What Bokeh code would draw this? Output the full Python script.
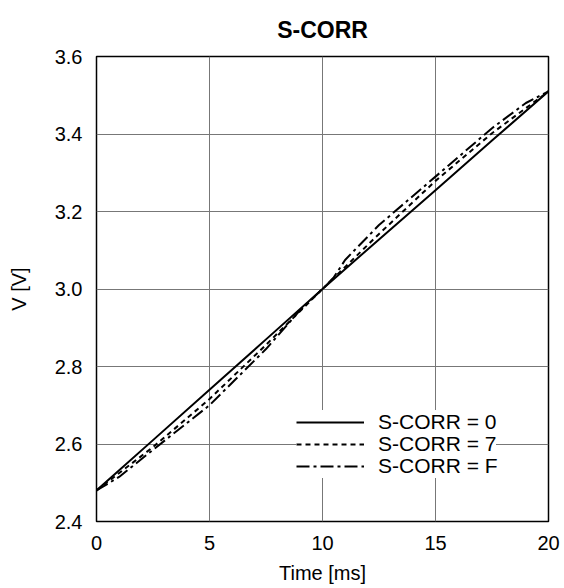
from bokeh.plotting import figure
from bokeh.models import FixedTicker, NumeralTickFormatter, Legend, LegendItem, Range1d
from bokeh.embed import file_html
from bokeh.resources import INLINE

# Data
time_ms = [0, 2.5, 5, 7.5, 10, 12.5, 15, 17.5, 20]
v_corr0 = [2.48, 2.61, 2.74, 2.87, 3.0, 3.128, 3.255, 3.383, 3.51]
v_corr7 = [2.48, 2.592, 2.716, 2.856, 3.0, 3.142, 3.279, 3.402, 3.51]
time_f = [0, 1, 2.5, 5, 7.5, 9, 10, 10.5, 11, 12.5, 15, 17.5, 19, 20]
v_corrF = [2.48, 2.515, 2.585, 2.70, 2.845, 2.945, 3.0, 3.03, 3.075, 3.165, 3.29, 3.415, 3.48, 3.51]
x_ticks = [0, 5, 10, 15, 20]
y_ticks = [2.4, 2.6, 2.8, 3.0, 3.2, 3.4, 3.6]
labels = ["S-CORR = 0", "S-CORR = 7", "S-CORR = F"]
title_text = "S-CORR"

FONT = "Liberation Sans"

p = figure(width=560, height=588, output_backend="svg", toolbar_location=None,
           x_range=Range1d(0, 20), y_range=Range1d(2.4, 3.6),
           title=title_text, min_border_left=96, min_border_right=12,
           min_border_top=56, min_border_bottom=67)

p.title.align = "center"
p.title.text_font = FONT
p.title.text_font_size = "23px"
p.title.text_font_style = "bold"
p.title.text_color = "black"
p.title.standoff = 27

r0 = p.line(time_ms, v_corr0, line_color="black", line_width=2)
r7 = p.line(time_ms, v_corr7, line_color="black", line_width=2, line_dash="5 4")
rF = p.line(time_f, v_corrF, line_color="black", line_width=2, line_dash="13 4 3 4")

for ax in (p.xaxis[0], p.yaxis[0]):
    ax.axis_line_color = None
    ax.major_tick_line_color = None
    ax.minor_tick_line_color = None
    ax.major_tick_out = 0
    ax.major_tick_in = 0
    ax.major_label_text_font = FONT
    ax.major_label_text_font_size = "20px"
    ax.major_label_text_color = "black"
    ax.major_label_text_line_height = 1.0
    ax.axis_label_text_font = FONT
    ax.axis_label_text_font_size = "20px"
    ax.axis_label_text_font_style = "normal"
    ax.axis_label_text_color = "black"
    ax.axis_label_text_line_height = 1.0
    ax.major_label_standoff = 14

p.xaxis.ticker = FixedTicker(ticks=x_ticks)
p.yaxis.ticker = FixedTicker(ticks=y_ticks)
p.yaxis.formatter = NumeralTickFormatter(format="0.0")
p.xaxis.axis_label = "Time [ms]"
p.yaxis.axis_label = "V [V]"
p.xaxis.axis_label_standoff = 9
p.yaxis.axis_label_standoff = 22

p.xgrid.ticker = FixedTicker(ticks=x_ticks)
p.ygrid.ticker = FixedTicker(ticks=y_ticks)
p.grid.grid_line_color = "#777777"
p.grid.grid_line_width = 1

p.outline_line_color = "black"
p.outline_line_width = 1.5
p.background_fill_color = "white"
p.border_fill_color = "white"

renderers = [r0, r7, rF]
row_y = [87, 65, 43]
for lab, r, yy in zip(labels, renderers, row_y):
    lg = Legend(items=[LegendItem(label=lab, renderers=[r])], location=(200, yy))
    lg.label_text_font = FONT
    lg.label_text_font_size = "21px"
    lg.label_text_color = "black"
    lg.glyph_width = 68
    lg.glyph_height = 20
    lg.label_height = 20
    lg.label_standoff = 14
    lg.spacing = 0
    lg.padding = 2
    lg.margin = 0
    lg.border_line_color = None
    lg.background_fill_color = "white"
    lg.background_fill_alpha = 1.0
    p.add_layout(lg, "center")

open("out.html", "w").write(file_html(p, INLINE))
